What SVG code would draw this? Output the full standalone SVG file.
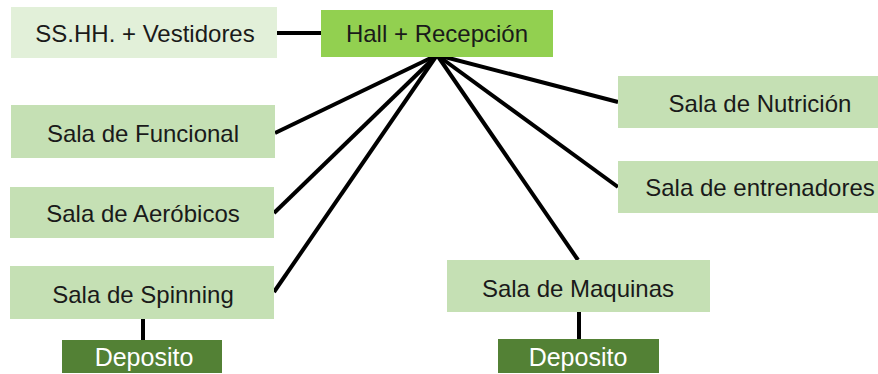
<svg xmlns="http://www.w3.org/2000/svg" width="878" height="374" viewBox="0 0 878 374">
<style>
.lt{fill:#c5e0b4}
.xl{fill:#e2f0d9}
.hall{fill:#92d050}
.dep{fill:#538135}
text{font-family:"Liberation Sans",Arial,sans-serif;font-size:24px;text-anchor:middle;dominant-baseline:central;fill:#1a1a1a}
.w{fill:#ffffff;font-size:25px}
.c line{stroke:#000;stroke-width:4;stroke-linecap:butt}
</style>
<rect width="878" height="374" fill="#ffffff"/>
<g class="c" id="connectors">
<line x1="277" y1="33" x2="321" y2="33"/>
<line x1="437" y1="55" x2="275" y2="133"/>
<line x1="437" y1="55" x2="274" y2="213"/>
<line x1="437" y1="55" x2="274" y2="292"/>
<line x1="437" y1="55" x2="618" y2="102"/>
<line x1="437" y1="55" x2="618" y2="187"/>
<line x1="437" y1="55" x2="578" y2="260"/>
<line x1="143" y1="319" x2="143" y2="340"/>
<line x1="579" y1="312" x2="579" y2="339"/>
</g>
<g id="sshh"><rect class="xl" x="11" y="7" width="266" height="51"/><text x="145" y="33">SS.HH. + Vestidores</text></g>
<g id="hall"><rect class="hall" x="321" y="10" width="232" height="47"/><text x="437" y="33">Hall + Recepción</text></g>
<g id="funcional"><rect class="lt" x="11" y="105" width="264" height="53"/><text x="143" y="133">Sala de Funcional</text></g>
<g id="aerobicos"><rect class="lt" x="10" y="187" width="264" height="51"/><text x="143" y="213">Sala de Aeróbicos</text></g>
<g id="spinning"><rect class="lt" x="10" y="266" width="264" height="53"/><text x="143" y="294">Sala de Spinning</text></g>
<g id="deposito1"><rect class="dep" x="62" y="340" width="160" height="33"/><text class="w" x="144" y="357">Deposito</text></g>
<g id="nutricion"><rect class="lt" x="618" y="76" width="260" height="52"/><text x="760" y="103">Sala de Nutrición</text></g>
<g id="entrenadores"><rect class="lt" x="618" y="161" width="260" height="52"/><text x="760" y="187">Sala de entrenadores</text></g>
<g id="maquinas"><rect class="lt" x="447" y="260" width="263" height="52"/><text x="578" y="288">Sala de Maquinas</text></g>
<g id="deposito2"><rect class="dep" x="498" y="339" width="161" height="34"/><text class="w" x="578" y="357">Deposito</text></g>
</svg>
